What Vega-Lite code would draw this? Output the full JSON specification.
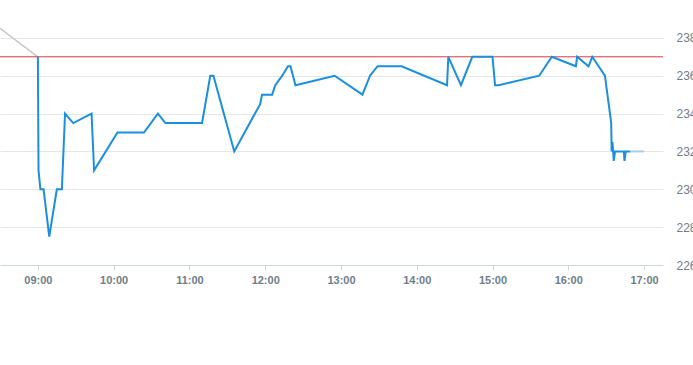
{
  "$schema": "https://vega.github.io/schema/vega-lite/v6.json",
  "width": 663,
  "height": 265,
  "autosize": "none",
  "padding": {"left": 0, "top": 0, "right": 30, "bottom": 100},
  "background": "white",
  "config": {"view": {"stroke": null}, "font": "Liberation Sans"},
  "datasets": {
    "price": [
      {"t": "2024-01-02T09:00:00", "v": 237.0},
      {"t": "2024-01-02T09:00:30", "v": 231.0},
      {"t": "2024-01-02T09:02:00", "v": 230.0},
      {"t": "2024-01-02T09:04:30", "v": 230.0},
      {"t": "2024-01-02T09:09:00", "v": 227.5},
      {"t": "2024-01-02T09:15:00", "v": 230.0},
      {"t": "2024-01-02T09:19:00", "v": 230.0},
      {"t": "2024-01-02T09:21:30", "v": 234.0},
      {"t": "2024-01-02T09:28:00", "v": 233.5},
      {"t": "2024-01-02T09:42:30", "v": 234.0},
      {"t": "2024-01-02T09:44:30", "v": 231.0},
      {"t": "2024-01-02T10:03:00", "v": 233.0},
      {"t": "2024-01-02T10:24:00", "v": 233.0},
      {"t": "2024-01-02T10:35:00", "v": 234.0},
      {"t": "2024-01-02T10:41:00", "v": 233.5},
      {"t": "2024-01-02T11:10:00", "v": 233.5},
      {"t": "2024-01-02T11:16:30", "v": 236.0},
      {"t": "2024-01-02T11:19:00", "v": 236.0},
      {"t": "2024-01-02T11:35:30", "v": 232.0},
      {"t": "2024-01-02T11:56:00", "v": 234.5},
      {"t": "2024-01-02T11:57:30", "v": 235.0},
      {"t": "2024-01-02T12:05:30", "v": 235.0},
      {"t": "2024-01-02T12:08:00", "v": 235.5},
      {"t": "2024-01-02T12:13:30", "v": 236.0},
      {"t": "2024-01-02T12:18:00", "v": 236.5},
      {"t": "2024-01-02T12:20:00", "v": 236.5},
      {"t": "2024-01-02T12:24:00", "v": 235.5},
      {"t": "2024-01-02T12:55:00", "v": 236.0},
      {"t": "2024-01-02T13:17:00", "v": 235.0},
      {"t": "2024-01-02T13:23:00", "v": 236.0},
      {"t": "2024-01-02T13:29:00", "v": 236.5},
      {"t": "2024-01-02T13:48:00", "v": 236.5},
      {"t": "2024-01-02T14:24:00", "v": 235.5},
      {"t": "2024-01-02T14:25:00", "v": 237.0},
      {"t": "2024-01-02T14:35:00", "v": 235.5},
      {"t": "2024-01-02T14:44:00", "v": 237.0},
      {"t": "2024-01-02T15:00:00", "v": 237.0},
      {"t": "2024-01-02T15:02:00", "v": 235.5},
      {"t": "2024-01-02T15:05:00", "v": 235.5},
      {"t": "2024-01-02T15:37:00", "v": 236.0},
      {"t": "2024-01-02T15:47:00", "v": 237.0},
      {"t": "2024-01-02T16:06:00", "v": 236.5},
      {"t": "2024-01-02T16:07:00", "v": 237.0},
      {"t": "2024-01-02T16:16:00", "v": 236.5},
      {"t": "2024-01-02T16:19:00", "v": 237.0},
      {"t": "2024-01-02T16:29:00", "v": 236.0},
      {"t": "2024-01-02T16:34:00", "v": 233.5},
      {"t": "2024-01-02T16:34:20", "v": 232.0},
      {"t": "2024-01-02T16:35:00", "v": 232.5},
      {"t": "2024-01-02T16:36:00", "v": 231.5},
      {"t": "2024-01-02T16:37:00", "v": 232.0},
      {"t": "2024-01-02T16:44:00", "v": 232.0},
      {"t": "2024-01-02T16:44:30", "v": 231.5},
      {"t": "2024-01-02T16:45:30", "v": 232.0},
      {"t": "2024-01-02T16:49:00", "v": 232.0}
    ],
    "after": [
      {"t": "2024-01-02T16:49:00", "v": 232.0},
      {"t": "2024-01-02T17:00:00", "v": 232.0}
    ],
    "prev": [
      {"t": "2024-01-02T08:30:00", "v": 238.5},
      {"t": "2024-01-02T09:00:00", "v": 237.0}
    ],
    "ref": [{"v": 237.0}]
  },
  "layer": [
    {
      "data": {"name": "prev"},
      "mark": {"type": "line", "color": "#c4c8cc", "strokeWidth": 1.5, "clip": true},
      "encoding": {
        "x": {
          "field": "t", "type": "temporal",
          "scale": {"domain": [{"year": 2024, "month": 1, "date": 2, "hours": 8, "minutes": 30}, {"year": 2024, "month": 1, "date": 2, "hours": 17, "minutes": 15}]},
          "axis": {
            "title": null, "format": "%H:%M",
            "values": [
              {"year": 2024, "month": 1, "date": 2, "hours": 9},
              {"year": 2024, "month": 1, "date": 2, "hours": 10},
              {"year": 2024, "month": 1, "date": 2, "hours": 11},
              {"year": 2024, "month": 1, "date": 2, "hours": 12},
              {"year": 2024, "month": 1, "date": 2, "hours": 13},
              {"year": 2024, "month": 1, "date": 2, "hours": 14},
              {"year": 2024, "month": 1, "date": 2, "hours": 15},
              {"year": 2024, "month": 1, "date": 2, "hours": 16},
              {"year": 2024, "month": 1, "date": 2, "hours": 17}
            ],
            "grid": false, "domainColor": "#ccd6e0", "tickColor": "#ccd6e0", "tickSize": 5,
            "labelColor": "#707d8a", "labelFontSize": 11, "labelFontWeight": "bold", "labelPadding": 4
          }
        },
        "y": {
          "field": "v", "type": "quantitative",
          "scale": {"domain": [226, 240], "nice": false, "zero": false},
          "axis": {
            "title": null, "orient": "right", "values": [226, 228, 230, 232, 234, 236, 238],
            "domain": false, "ticks": false, "gridColor": "#e6e6e6", "grid": true,
            "labelColor": "#707d8a", "labelFontSize": 12, "labelPadding": 13
          }
        }
      }
    },
    {
      "data": {"name": "ref"},
      "mark": {"type": "rule", "color": "#e0393e", "strokeWidth": 1},
      "encoding": {"y": {"field": "v", "type": "quantitative"}}
    },
    {
      "data": {"name": "after"},
      "mark": {"type": "line", "color": "#a6cdeb", "strokeWidth": 2},
      "encoding": {
        "x": {"field": "t", "type": "temporal"},
        "y": {"field": "v", "type": "quantitative"}
      }
    },
    {
      "data": {"name": "price"},
      "mark": {"type": "line", "color": "#1a8fdd", "strokeWidth": 2, "strokeJoin": "miter"},
      "encoding": {
        "x": {"field": "t", "type": "temporal"},
        "y": {"field": "v", "type": "quantitative"}
      }
    }
  ]
}
